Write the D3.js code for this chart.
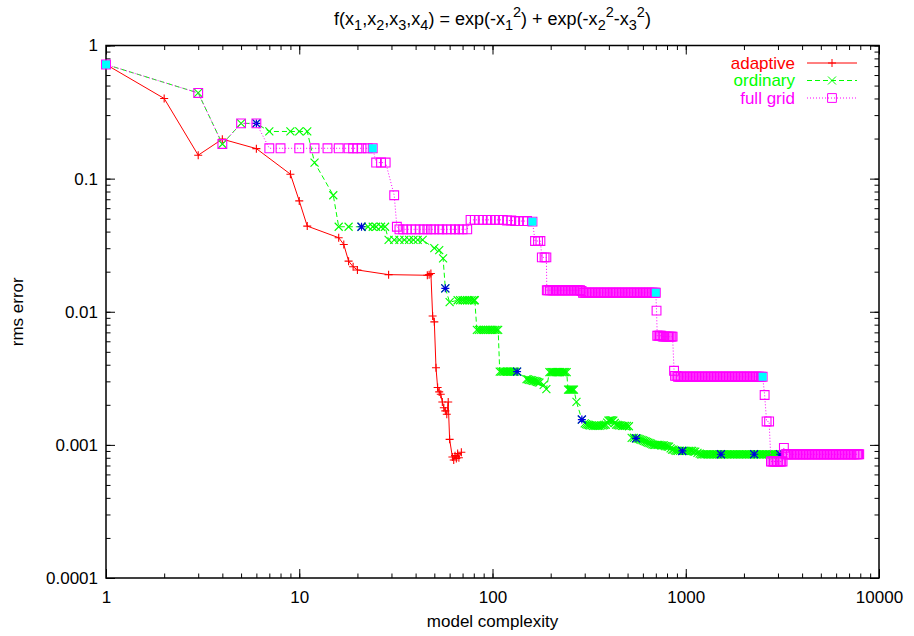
<!DOCTYPE html>
<html>
<head>
<meta charset="utf-8">
<script src="https://cdn.jsdelivr.net/npm/d3@7"></script>
<style>
  body { margin: 0; background: #fff; }
  text { font-family: "Liberation Sans", Arial, Helvetica, sans-serif; }
</style>
</head>
<body>
<div id="chart"></div>
<script>
// tick labels
const xTicks = [1, 10, 100, 1000, 10000];
const xTickLabels = ["1", "10", "100", "1000", "10000"];
const yTicks = [1, 0.1, 0.01, 0.001, 0.0001];
const yTickLabels = ["1", "0.1", "0.01", "0.001", "0.0001"];

const seriesNames = ["adaptive", "ordinary", "full grid"];

// [model complexity, rms error]
const adaptive = [
  [1, 0.72], [2, 0.40], [3, 0.15], [4, 0.198], [6, 0.168], [9, 0.108], [10, 0.068], [11, 0.044],
  [16, 0.036], [17, 0.032], [18, 0.024], [19, 0.0218], [20, 0.0206], [29, 0.019], [46, 0.0188],
  [47, 0.019], [48, 0.0194], [49, 0.0093], [50, 0.0084], [51, 0.0038], [52, 0.0027], [53, 0.0025],
  [54, 0.0024], [55, 0.0021], [56, 0.0019], [57, 0.0018], [58, 0.0017], [59, 0.0021], [60, 0.0011],
  [62, 0.00081], [63, 0.00077], [64, 0.00083], [65, 0.00079], [66, 0.00086], [67, 0.0008], [69, 0.00088]
];

const ordinary = [
  [1, 0.72], [3, 0.44], [4, 0.182], [5, 0.26], [6, 0.26], [7, 0.226], [9, 0.226], [10, 0.226],
  [11, 0.226], [12, 0.132], [15, 0.075], [16, 0.0435], [18, 0.0435], [21, 0.0435], [22.7, 0.0435],
  [24, 0.0435], [25, 0.0435], [26.5, 0.0435], [27.8, 0.0435], [29, 0.0346], [31, 0.0346], [33, 0.0346],
  [35, 0.0346], [37, 0.0346], [39, 0.0346], [41, 0.0346], [43.5, 0.0346], [50, 0.030], [53, 0.029],
  [55.5, 0.0252], [57, 0.015], [60, 0.0118],
  [66, 0.0122], [68, 0.0122], [70, 0.0122], [72, 0.0122], [74, 0.0122], [76, 0.0122], [78, 0.0122],
  [80, 0.0122], [81, 0.0122],
  [83, 0.0073], [85, 0.0073], [87, 0.0073], [89, 0.0073], [91, 0.0073], [93, 0.0073], [95, 0.0073],
  [97, 0.0073], [99, 0.0073], [101, 0.0073], [103, 0.0073], [105, 0.0073], [107, 0.0073],
  [109, 0.00355], [111, 0.00355], [113, 0.00355], [115, 0.00355], [117, 0.00355], [119, 0.00355],
  [121, 0.00355], [123, 0.00355], [125, 0.00355], [127, 0.00355], [129, 0.00355], [131, 0.00355],
  [134, 0.00355],
  [150, 0.00312], [152.5, 0.0031], [155, 0.00308], [157.5, 0.00306], [160, 0.00305], [162.5, 0.00303],
  [165, 0.00302], [167.5, 0.003], [170, 0.00298], [172.5, 0.00296], [175, 0.00294], [184, 0.00282],
  [190, 0.00262],
  [197, 0.00352], [200, 0.00352], [203, 0.00352], [206, 0.00352], [209, 0.00352], [212, 0.00352],
  [215, 0.00352], [218, 0.00352], [221, 0.00352], [224, 0.00352], [228, 0.00352], [231, 0.00352],
  [235, 0.00352], [238, 0.00352], [242, 0.00352],
  [246, 0.0026], [249, 0.0026], [252, 0.0026], [255, 0.0026], [258, 0.0026], [261, 0.0026],
  [264, 0.0026], [272, 0.0021], [290, 0.00155],
  [300, 0.00145], [305, 0.00143], [310, 0.00142], [315, 0.00141], [320, 0.0014], [326, 0.0014],
  [332, 0.00139], [338, 0.00139], [345, 0.00139], [351, 0.00139], [358, 0.00139], [365, 0.0014],
  [372, 0.0014], [379, 0.00141], [386, 0.00142], [392, 0.00147], [398, 0.00152], [404, 0.00153],
  [410, 0.00153], [416, 0.00153], [422, 0.00152], [429, 0.00146], [436, 0.00142], [444, 0.00141],
  [452, 0.0014], [460, 0.0014], [468, 0.00139], [476, 0.00139], [485, 0.00139], [496, 0.00139],
  [508, 0.00138],
  [525, 0.00113], [539, 0.00113], [553, 0.00112], [561, 0.00112], [570, 0.00111], [580, 0.0011],
  [590, 0.00109], [600, 0.00108], [610, 0.00107], [620, 0.00106], [630, 0.00105], [640, 0.00104],
  [650, 0.00103], [661, 0.00102], [672, 0.00101], [683, 0.001], [695, 0.001], [707, 0.001],
  [720, 0.001], [732, 0.001], [745, 0.00099], [757, 0.00099], [770, 0.00099], [782, 0.00098],
  [795, 0.00098], [807, 0.00097], [820, 0.00097], [835, 0.00094], [850, 0.00092], [865, 0.00092],
  [880, 0.00091], [895, 0.0009], [910, 0.0009], [935, 0.0009], [960, 0.0009], [980, 0.0009],
  [1000, 0.0009], [1020, 0.0009], [1040, 0.0009], [1060, 0.0009], [1080, 0.0009], [1100, 0.00089],
  [1120, 0.00089], [1150, 0.00087], [1180, 0.00086],
  [1200, 0.00085], [1220, 0.00085], [1243, 0.00085], [1265, 0.00085], [1288, 0.00085], [1310, 0.00085],
  [1335, 0.00085], [1360, 0.00085], [1385, 0.00085], [1410, 0.00085], [1435, 0.00085], [1460, 0.00085],
  [1490, 0.00085], [1520, 0.00085], [1545, 0.00085], [1570, 0.00085], [1600, 0.00085], [1630, 0.00085],
  [1660, 0.00085], [1690, 0.00085], [1720, 0.00085], [1750, 0.00085], [1780, 0.00085], [1810, 0.00085],
  [1845, 0.00085], [1880, 0.00085], [1915, 0.00085], [1950, 0.00085], [1985, 0.00085], [2020, 0.00085],
  [2055, 0.00085], [2090, 0.00085], [2130, 0.00085], [2170, 0.00085], [2215, 0.00085], [2260, 0.00085],
  [2300, 0.00085], [2340, 0.00085], [2380, 0.00085], [2420, 0.00085], [2465, 0.00085], [2510, 0.00085],
  [2555, 0.00085], [2600, 0.00085], [2650, 0.00085], [2700, 0.00085], [2745, 0.00085], [2790, 0.00085],
  [2840, 0.00085], [2890, 0.00085], [2945, 0.00085], [3000, 0.00085], [3040, 0.00085], [3080, 0.00085]
];

const fullGrid = [
  [1, 0.72], [3, 0.44], [4, 0.182], [5, 0.26], [6, 0.26], [7, 0.169], [8, 0.169], [10, 0.169],
  [12, 0.169], [14, 0.169], [16, 0.169], [18, 0.169], [19, 0.169], [20, 0.169], [21, 0.169],
  [22.6, 0.169], [24, 0.169], [25, 0.132], [26.5, 0.132], [28, 0.132], [31, 0.075], [32, 0.0435],
  [33, 0.0416], [34.5, 0.0416], [36, 0.0416], [38, 0.0416], [40, 0.0416], [42, 0.0416], [44, 0.0416],
  [46, 0.0416], [48, 0.0416], [50, 0.0416], [53, 0.0416], [55, 0.0416], [58, 0.0416], [61, 0.0416],
  [64, 0.0416], [67, 0.0416], [70, 0.0416], [74, 0.0416], [77, 0.049], [81, 0.049], [85, 0.049],
  [89, 0.049], [94, 0.049], [98, 0.049], [103, 0.049], [108, 0.049], [113, 0.049], [119, 0.0485],
  [125, 0.0485], [131, 0.048], [137, 0.048], [144, 0.048], [151, 0.048], [161, 0.0475], [166, 0.034],
  [172, 0.034], [177, 0.034], [180, 0.0256], [186, 0.0256], [190, 0.0256],
  [191, 0.0145], [194, 0.0145], [198, 0.0145], [202, 0.0145], [206, 0.0145], [209, 0.0145],
  [213, 0.0145], [217, 0.0145], [221, 0.0145], [225, 0.0145], [229, 0.0145], [233, 0.0145],
  [237, 0.0145], [241, 0.0145], [246, 0.0145], [250, 0.0145], [255, 0.0145], [259, 0.0145],
  [264, 0.0145], [269, 0.0145], [274, 0.0145], [279, 0.0145], [284, 0.0145], [289, 0.0143],
  [294, 0.0139], [299, 0.0139], [305, 0.0139], [310, 0.0139], [316, 0.0139], [321, 0.0139],
  [327, 0.0139], [333, 0.0139], [339, 0.0139], [345, 0.0139], [352, 0.0139], [358, 0.0139],
  [364, 0.0139], [371, 0.0139], [378, 0.0139], [384, 0.0139], [391, 0.0139], [398, 0.0139],
  [406, 0.0139], [413, 0.0139], [420, 0.0139], [428, 0.0139], [436, 0.0139], [443, 0.0139],
  [451, 0.0139], [459, 0.0139], [468, 0.0139], [476, 0.0139], [485, 0.0139], [494, 0.0139],
  [503, 0.0139], [512, 0.0139], [521, 0.0139], [530, 0.0139], [540, 0.0139], [549, 0.0139],
  [559, 0.0139], [569, 0.0139], [580, 0.0139], [590, 0.0139], [601, 0.0139], [612, 0.0139],
  [623, 0.0139], [634, 0.0139], [645, 0.0139], [657, 0.0139], [669, 0.0139], [681, 0.0139],
  [693, 0.0139], [700, 0.0139], [706, 0.0102],
  [712, 0.0066], [723, 0.0066], [735, 0.0066], [747, 0.0066], [760, 0.0065], [772, 0.0065],
  [785, 0.0065], [797, 0.0065], [810, 0.0065], [822, 0.0065], [835, 0.0065], [845, 0.0065],
  [855, 0.0065], [870, 0.0036],
  [880, 0.0033], [896, 0.0033], [912, 0.00325], [928, 0.00325], [945, 0.00325], [962, 0.00325],
  [979, 0.00325], [997, 0.00325], [1015, 0.00325], [1033, 0.00325], [1052, 0.00325], [1071, 0.00325],
  [1090, 0.00325], [1110, 0.00325], [1130, 0.00325], [1150, 0.00325], [1171, 0.00325], [1192, 0.00325],
  [1213, 0.00325], [1235, 0.00325], [1258, 0.00325], [1280, 0.00325], [1303, 0.00325], [1327, 0.00325],
  [1351, 0.00325], [1375, 0.00325], [1400, 0.00325], [1425, 0.00325], [1451, 0.00325], [1477, 0.00325],
  [1504, 0.00325], [1531, 0.00325], [1559, 0.00325], [1587, 0.00325], [1615, 0.00325], [1644, 0.00325],
  [1674, 0.00325], [1704, 0.00325], [1735, 0.00325], [1766, 0.00325], [1798, 0.00325], [1831, 0.00325],
  [1864, 0.00325], [1898, 0.00325], [1932, 0.00325], [1967, 0.00325], [2002, 0.00325], [2038, 0.00325],
  [2075, 0.00325], [2112, 0.00325], [2150, 0.00325], [2189, 0.00325], [2229, 0.00325], [2269, 0.00325],
  [2310, 0.00325], [2351, 0.00325], [2393, 0.00325], [2446, 0.00325], [2500, 0.00325],
  [2560, 0.00237], [2620, 0.0015], [2700, 0.0015],
  [2760, 0.00075], [2810, 0.00075], [2860, 0.00075], [2910, 0.00075], [2960, 0.00075], [3010, 0.00075],
  [3070, 0.00075], [3120, 0.00075], [3170, 0.00075], [3220, 0.00095],
  [3290, 0.00085], [3335, 0.00085], [3380, 0.00085], [3440, 0.00085], [3500, 0.00085], [3565, 0.00085],
  [3630, 0.00085], [3695, 0.00085], [3760, 0.00085], [3830, 0.00085], [3900, 0.00085], [3970, 0.00085],
  [4040, 0.00085], [4115, 0.00085], [4190, 0.00085], [4265, 0.00085], [4340, 0.00085], [4420, 0.00085],
  [4500, 0.00085], [4585, 0.00085], [4670, 0.00085], [4750, 0.00085], [4830, 0.00085], [4920, 0.00085],
  [5010, 0.00085], [5100, 0.00085], [5190, 0.00085], [5285, 0.00085], [5380, 0.00085], [5480, 0.00085],
  [5580, 0.00085], [5680, 0.00085], [5780, 0.00085], [5885, 0.00085], [5990, 0.00085], [6100, 0.00085],
  [6210, 0.00085], [6320, 0.00085], [6430, 0.00085], [6550, 0.00085], [6670, 0.00085], [6790, 0.00085],
  [6910, 0.00085], [7035, 0.00085], [7160, 0.00085], [7290, 0.00085], [7420, 0.00085], [7555, 0.00085],
  [7690, 0.00085], [7800, 0.00085], [7900, 0.00085]
];

// highlighted points (no legend entry)
const ordinaryMarks = [
  [6, 0.26], [21, 0.0435], [57, 0.015], [134, 0.00355], [290, 0.00155], [553, 0.00112],
  [960, 0.0009], [1520, 0.00085], [2260, 0.00085], [3080, 0.00085]
];
const fullGridMarks = [[1, 0.72], [24, 0.169], [161, 0.0475], [700, 0.0139], [2500, 0.00325]];

const W = 914, H = 636;
const margin = { top: 45.5, right: 35, bottom: 58, left: 106 };
const width = W - margin.left - margin.right;
const height = H - margin.top - margin.bottom;

const svg = d3.select("#chart").append("svg")
  .attr("width", W)
  .attr("height", H);

const g = svg.append("g")
  .attr("transform", `translate(${margin.left},${margin.top})`);

const x = d3.scaleLog().domain([1, 10000]).range([0, width]);
const y = d3.scaleLog().domain([0.0001, 1]).range([height, 0]);

// marker shapes
const s = 4, q = 4.4;
const shapes = {
  plus: `M${-s},0H${s}M0,${-s}V${s}`,
  cross: `M${-s},${-s}L${s},${s}M${-s},${s}L${s},${-s}`,
  square: `M${-q},${-q}H${q}V${q}H${-q}Z`,
  star: `M${-s},0H${s}M0,${-s}V${s}M${-s},${-s}L${s},${s}M${-s},${s}L${s},${-s}`
};

// axes: inward ticks on all four sides
function styleAxis(sel) {
  sel.select(".domain").remove();
  sel.selectAll(".tick line").attr("stroke", "#000");
  sel.selectAll("text")
    .style("font-family", '"Liberation Sans", Arial, sans-serif')
    .style("font-size", "17px")
    .attr("fill", "#000");
}

g.append("g").attr("transform", `translate(0,${height})`)
  .call(d3.axisBottom(x).tickValues(x.ticks()).tickSize(-4.5).tickFormat(""))
  .call(styleAxis);
g.append("g").attr("transform", `translate(0,${height})`)
  .call(d3.axisBottom(x).tickValues(xTicks).tickSize(-9).tickPadding(13)
    .tickFormat((d, i) => xTickLabels[i]))
  .call(styleAxis);
g.append("g")
  .call(d3.axisTop(x).tickValues(x.ticks()).tickSize(-4.5).tickFormat(""))
  .call(styleAxis);
g.append("g")
  .call(d3.axisTop(x).tickValues(xTicks).tickSize(-9).tickFormat(""))
  .call(styleAxis);

g.append("g")
  .call(d3.axisLeft(y).tickValues(y.ticks()).tickSize(-4.5).tickFormat(""))
  .call(styleAxis);
g.append("g")
  .call(d3.axisLeft(y).tickValues(yTicks).tickSize(-9).tickPadding(8)
    .tickFormat((d, i) => yTickLabels[i]))
  .call(styleAxis);
g.append("g").attr("transform", `translate(${width},0)`)
  .call(d3.axisRight(y).tickValues(y.ticks()).tickSize(-4.5).tickFormat(""))
  .call(styleAxis);
g.append("g").attr("transform", `translate(${width},0)`)
  .call(d3.axisRight(y).tickValues(yTicks).tickSize(-9).tickFormat(""))
  .call(styleAxis);

// border
g.append("rect")
  .attr("width", width)
  .attr("height", height)
  .attr("fill", "none")
  .attr("stroke", "#000")
  .attr("stroke-width", 1.5);

const line = d3.line().x(d => x(d[0])).y(d => y(d[1]));

function drawSeries(data, color, dash, shape) {
  g.append("path")
    .datum(data)
    .attr("d", line)
    .attr("fill", "none")
    .attr("stroke", color)
    .attr("stroke-width", 1)
    .attr("stroke-dasharray", dash);
  g.append("g").selectAll("path")
    .data(data)
    .join("path")
    .attr("transform", d => `translate(${x(d[0])},${y(d[1])})`)
    .attr("d", shapes[shape])
    .attr("fill", "none")
    .attr("stroke", color)
    .attr("stroke-width", 1.1);
}

const colors = ["#ff0000", "#00ff00", "#ff00ff"];
const dashes = [null, "5,3", "1,2"];
const markers = ["plus", "cross", "square"];

drawSeries(adaptive, colors[0], dashes[0], markers[0]);
drawSeries(ordinary, colors[1], dashes[1], markers[1]);

g.append("g").selectAll("path")
  .data(ordinaryMarks)
  .join("path")
  .attr("transform", d => `translate(${x(d[0])},${y(d[1])})`)
  .attr("d", shapes.star)
  .attr("fill", "none")
  .attr("stroke", "#0000e0")
  .attr("stroke-width", 1.2);

drawSeries(fullGrid, colors[2], dashes[2], markers[2]);

g.append("g").selectAll("rect")
  .data(fullGridMarks)
  .join("rect")
  .attr("x", d => x(d[0]) - 4)
  .attr("y", d => y(d[1]) - 4)
  .attr("width", 8)
  .attr("height", 8)
  .attr("fill", "#00ffff");

// legend
const legend = svg.append("g");
seriesNames.forEach((name, i) => {
  const ly = 63 + i * 17.5;
  legend.append("text")
    .attr("x", 795)
    .attr("y", ly)
    .attr("dy", "0.35em")
    .attr("text-anchor", "end")
    .attr("fill", colors[i])
    .style("font-size", "17px")
    .text(name);
  legend.append("line")
    .attr("x1", 807).attr("x2", 857)
    .attr("y1", ly).attr("y2", ly)
    .attr("stroke", colors[i])
    .attr("stroke-width", 1)
    .attr("stroke-dasharray", dashes[i]);
  legend.append("path")
    .attr("transform", `translate(832,${ly})`)
    .attr("d", shapes[markers[i]])
    .attr("fill", "none")
    .attr("stroke", colors[i]);
});

// title with sub/superscripts
const titleParts = [
  ["f(x", 0], ["1", -1], [",x", 0], ["2", -1], [",x", 0], ["3", -1], [",x", 0], ["4", -1],
  [") = exp(-x", 0], ["1", -1], ["2", 1], [") + exp(-x", 0], ["2", -1], ["2", 1],
  ["-x", 0], ["3", -1], ["2", 1], [")", 0]
];
const title = svg.append("text")
  .attr("x", margin.left + width / 2)
  .attr("y", 25)
  .attr("text-anchor", "middle")
  .style("font-size", "18px");
let shift = 0;
titleParts.forEach(([t, lvl]) => {
  const target = lvl === -1 ? 5 : lvl === 1 ? -8 : 0;
  title.append("tspan")
    .attr("dy", target - shift)
    .style("font-size", lvl === 0 ? "18px" : "14.5px")
    .text(t);
  shift = target;
});

// axis labels
svg.append("text")
  .attr("x", margin.left + width / 2)
  .attr("y", 627)
  .attr("text-anchor", "middle")
  .style("font-size", "17px")
  .text("model complexity");

svg.append("text")
  .attr("transform", `translate(23,${margin.top + height / 2}) rotate(-90)`)
  .attr("text-anchor", "middle")
  .style("font-size", "17px")
  .text("rms error");
</script>
</body>
</html>
